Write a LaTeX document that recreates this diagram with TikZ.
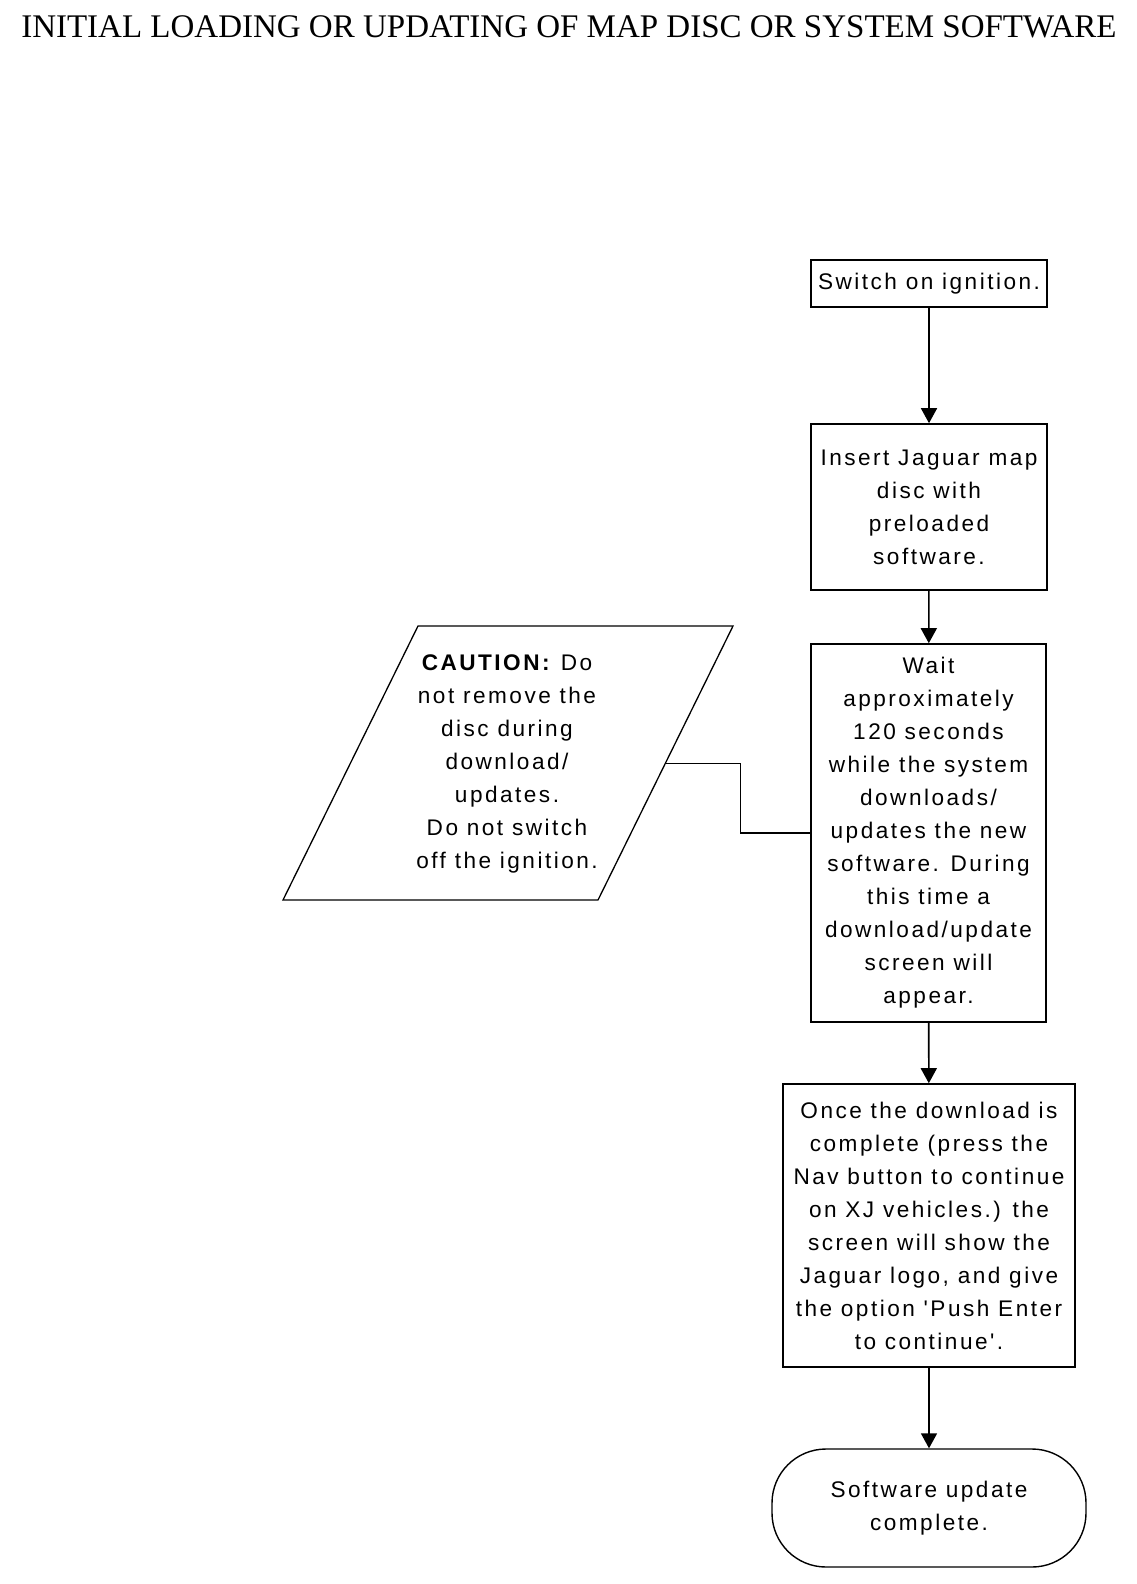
\documentclass[tikz,border=0pt]{standalone}
\usepackage{fontspec}
\setmainfont{Liberation Serif}
\newfontfamily\boxfont[LetterSpace=11]{Liberation Sans}
\usetikzlibrary{arrows.meta}
\begin{document}
\begin{tikzpicture}[x=1pt,y=-1pt,
  txt/.style={font=\boxfont\fontsize{22.6}{33}\selectfont, align=center, inner sep=0pt},
  stepbox/.style={txt, draw, line width=1.6pt},
  flow/.style={line width=1.6pt, -{Triangle[width=16pt,length=15pt]}},
]
\useasboundingbox (0,0) rectangle (1136,1584);
\node[font=\fontsize{33}{36}\selectfont, inner sep=0pt] (title) at (569,27) {INITIAL LOADING OR UPDATING OF MAP DISC OR SYSTEM SOFTWARE};

\node[stepbox, minimum width=236pt, minimum height=47pt] (s1) at (929,283.5) {Switch on ignition.};
\node[stepbox, minimum width=236pt, minimum height=166pt] (s2) at (929,507) {Insert Jaguar map\\disc with\\preloaded\\software.};
\node[stepbox, minimum width=235pt, minimum height=378pt] (s3) at (928.5,833) {Wait\\approximately\\120 seconds\\while the system\\downloads/\\updates the new\\software. During\\this time a\\download/update\\screen will\\appear.};
\node[stepbox, minimum width=292pt, minimum height=283pt] (s4) at (929,1225.5) {Once the download is\\complete (press the\\Nav button to continue\\on XJ vehicles.) the\\screen will show the\\Jaguar logo, and give\\the option 'Push Enter\\to continue'.};
\node[stepbox, line width=1.4pt, rounded corners=54pt, minimum width=314pt, minimum height=118pt] (s5) at (929,1508) {Software update\\complete.};

% caution parallelogram
\draw[line width=1.3pt] (418,626) -- (733,626) -- (598,900) -- (283,900) -- cycle;
\node[txt] (caution) at (507,764) {\textbf{CAUTION:} Do\\not remove the\\disc during\\download/\\updates.\\Do not switch\\off the ignition.};
\coordinate (cr) at (664.5,763);
\coordinate (cj) at (740,833);

\draw[flow] (s1) -- (s2);
\draw[flow] (s2) -- (s3);
\draw[flow] (s3) -- (s4);
\draw[flow] (s4) -- (s5);
\draw[line width=1pt] (cr) -| (cj);
\draw[line width=2pt] (cj) -- (s3.west);
\end{tikzpicture}
\end{document}
